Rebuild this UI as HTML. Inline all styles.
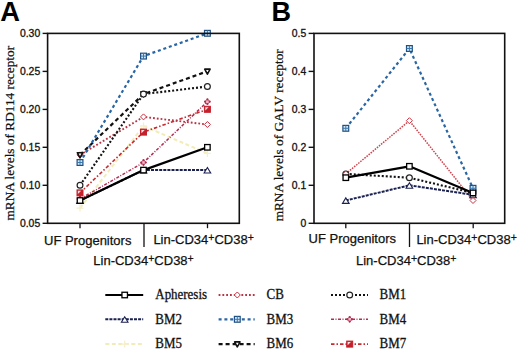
<!DOCTYPE html>
<html><head><meta charset="utf-8"><style>
html,body{margin:0;padding:0;background:#fff;}
svg{display:block;}
.tk{font-family:"Liberation Sans",sans-serif;font-size:10.4px;fill:#111;stroke:#111;stroke-width:0.3px;}
.xl{font-family:"Liberation Sans",sans-serif;font-size:13px;fill:#111;stroke:#111;stroke-width:0.25px;}
.yt{font-family:"Liberation Serif",serif;font-size:13.3px;fill:#111;stroke:#111;stroke-width:0.25px;}
.lg{font-family:"Liberation Serif",serif;font-size:14px;fill:#111;stroke:#111;stroke-width:0.3px;}
.pl{font-family:"Liberation Sans",sans-serif;font-size:27.3px;font-weight:bold;fill:#000;}
</style></head><body>
<svg width="520" height="351" viewBox="0 0 520 351">
<rect width="520" height="351" fill="#fff"/>
<path d="M80.0 208.1L143.5 126.0L207.4 153.4" fill="none" stroke="#f2edb8" stroke-width="2.0" stroke-dasharray="4 2.5" stroke-linejoin="round"/>
<path d="M80.0 199.0L143.5 162.5L207.4 101.7" fill="none" stroke="#b02c50" stroke-width="1.5" stroke-dasharray="3 1.5 1 1.5" stroke-linejoin="round"/>
<path d="M80.0 192.9L143.5 132.1L207.4 109.3" fill="none" stroke="#c82a30" stroke-width="1.6" stroke-dasharray="3.5 2 1.5 2" stroke-linejoin="round"/>
<path d="M80.0 154.9L143.5 116.9L207.4 124.5" fill="none" stroke="#b83444" stroke-width="1.9" stroke-dasharray="1.8 2" stroke-linejoin="round"/>
<path d="M80.0 200.5L143.5 170.1L207.4 170.1" fill="none" stroke="#1a2050" stroke-width="2.0" stroke-dasharray="3 1.1" stroke-linejoin="round"/>
<path d="M80.0 185.3L143.5 94.1L207.4 86.5" fill="none" stroke="#111111" stroke-width="2.1" stroke-dasharray="2 2" stroke-linejoin="round"/>
<path d="M80.0 154.9L143.5 94.1L207.4 71.3" fill="none" stroke="#111111" stroke-width="2.2" stroke-dasharray="4 3" stroke-linejoin="round"/>
<path d="M80.0 162.5L143.5 56.1L207.4 33.3" fill="none" stroke="#2a66a4" stroke-width="2.2" stroke-dasharray="3 2.8" stroke-linejoin="round"/>
<path d="M80.0 200.5L143.5 170.1L207.4 147.3" fill="none" stroke="#000000" stroke-width="2.2" stroke-linejoin="round"/>
<path d="M80.0 204.6V211.6M76.5 208.1H83.5" stroke="#f5f0cc" stroke-width="1.3"/><path d="M143.5 122.5V129.5M140.0 126.0H147.0" stroke="#f5f0cc" stroke-width="1.3"/><path d="M207.4 149.9V156.9M203.9 153.4H210.9" stroke="#f5f0cc" stroke-width="1.3"/>
<path d="M80.0 196.4L82.6 199.0L80.0 201.6L77.4 199.0Z" fill="#f2b8c8" stroke="#b02c50" stroke-width="0.8"/><circle cx="80.0" cy="196.7" r="1.1" fill="#b02c50"/><circle cx="80.0" cy="201.3" r="1.1" fill="#b02c50"/><circle cx="77.7" cy="199.0" r="1.1" fill="#b02c50"/><circle cx="82.3" cy="199.0" r="1.1" fill="#b02c50"/><path d="M143.5 159.9L146.1 162.5L143.5 165.1L140.9 162.5Z" fill="#f2b8c8" stroke="#b02c50" stroke-width="0.8"/><circle cx="143.5" cy="160.2" r="1.1" fill="#b02c50"/><circle cx="143.5" cy="164.8" r="1.1" fill="#b02c50"/><circle cx="141.2" cy="162.5" r="1.1" fill="#b02c50"/><circle cx="145.8" cy="162.5" r="1.1" fill="#b02c50"/><path d="M207.4 99.1L210.0 101.7L207.4 104.3L204.8 101.7Z" fill="#f2b8c8" stroke="#b02c50" stroke-width="0.8"/><circle cx="207.4" cy="99.4" r="1.1" fill="#b02c50"/><circle cx="207.4" cy="104.0" r="1.1" fill="#b02c50"/><circle cx="205.1" cy="101.7" r="1.1" fill="#b02c50"/><circle cx="209.7" cy="101.7" r="1.1" fill="#b02c50"/>
<rect x="77.0" y="189.9" width="6" height="6" fill="#c4202c" stroke="#c4202c" stroke-width="1"/><path d="M77.9 190.8H81.2L77.9 194.1Z" fill="#f8e0e0"/><rect x="140.5" y="129.1" width="6" height="6" fill="#c4202c" stroke="#c4202c" stroke-width="1"/><path d="M141.4 130.0H144.7L141.4 133.3Z" fill="#f8e0e0"/><rect x="204.4" y="106.3" width="6" height="6" fill="#c4202c" stroke="#c4202c" stroke-width="1"/><path d="M205.3 107.2H208.6L205.3 110.5Z" fill="#f8e0e0"/>
<path d="M80.0 197.9L83.3 203.4L76.7 203.4Z" fill="#fff" stroke="#1a2050" stroke-width="1.1"/><path d="M143.5 167.5L146.8 173.0L140.2 173.0Z" fill="#fff" stroke="#1a2050" stroke-width="1.1"/><path d="M207.4 167.5L210.7 173.0L204.1 173.0Z" fill="#fff" stroke="#1a2050" stroke-width="1.1"/>
<path d="M80.0 151.9L83.0 154.9L80.0 157.9L77.0 154.9Z" fill="#fff" stroke="#c83040" stroke-width="1"/><path d="M143.5 113.9L146.5 116.9L143.5 119.9L140.5 116.9Z" fill="#fff" stroke="#c83040" stroke-width="1"/><path d="M207.4 121.5L210.4 124.5L207.4 127.5L204.4 124.5Z" fill="#fff" stroke="#c83040" stroke-width="1"/>
<path d="M77.3 152.7L82.7 152.7L80.0 157.8Z" fill="#fff" stroke="#111111" stroke-width="1.6" stroke-linejoin="round"/><path d="M140.8 91.9L146.2 91.9L143.5 97.0Z" fill="#fff" stroke="#111111" stroke-width="1.6" stroke-linejoin="round"/><path d="M204.7 69.1L210.1 69.1L207.4 74.2Z" fill="#fff" stroke="#111111" stroke-width="1.6" stroke-linejoin="round"/>
<circle cx="80.0" cy="185.3" r="2.9" fill="#fff" stroke="#222222" stroke-width="1.2"/><circle cx="143.5" cy="94.1" r="2.9" fill="#fff" stroke="#222222" stroke-width="1.2"/><circle cx="207.4" cy="86.5" r="2.9" fill="#fff" stroke="#222222" stroke-width="1.2"/>
<rect x="77.1" y="159.6" width="5.8" height="5.8" fill="#d4e8f8" stroke="#1f4f80" stroke-width="1.2"/><path d="M80.0 159.6V165.4M77.1 162.5H82.9" stroke="#3a78b0" stroke-width="1"/><rect x="140.6" y="53.2" width="5.8" height="5.8" fill="#d4e8f8" stroke="#1f4f80" stroke-width="1.2"/><path d="M143.5 53.2V59.0M140.6 56.1H146.4" stroke="#3a78b0" stroke-width="1"/><rect x="204.5" y="30.4" width="5.8" height="5.8" fill="#d4e8f8" stroke="#1f4f80" stroke-width="1.2"/><path d="M207.4 30.4V36.2M204.5 33.3H210.3" stroke="#3a78b0" stroke-width="1"/>
<rect x="77.25" y="197.75" width="5.5" height="5.5" fill="#fff" stroke="#000000" stroke-width="1.3"/><rect x="140.75" y="167.35" width="5.5" height="5.5" fill="#fff" stroke="#000000" stroke-width="1.3"/><rect x="204.65" y="144.55" width="5.5" height="5.5" fill="#fff" stroke="#000000" stroke-width="1.3"/>
<path d="M345.8 173.9L409.4 120.7L473.0 200.5" fill="none" stroke="#cf4650" stroke-width="1.5" stroke-dasharray="1.6 1.1" stroke-linejoin="round"/>
<path d="M345.8 200.5L409.4 185.3L473.0 194.8" fill="none" stroke="#1a2050" stroke-width="2.0" stroke-dasharray="3 1.1" stroke-linejoin="round"/>
<path d="M345.8 173.9L409.4 177.7L473.0 192.9" fill="none" stroke="#111111" stroke-width="2.1" stroke-dasharray="2 2" stroke-linejoin="round"/>
<path d="M345.8 128.3L409.4 48.5L473.0 188.3" fill="none" stroke="#2a66a4" stroke-width="2.2" stroke-dasharray="3 2.8" stroke-linejoin="round"/>
<path d="M345.8 177.7L409.4 166.3L473.0 192.9" fill="none" stroke="#000000" stroke-width="2.2" stroke-linejoin="round"/>
<path d="M345.8 197.9L349.1 203.4L342.5 203.4Z" fill="#fff" stroke="#1a2050" stroke-width="1.1"/><path d="M409.4 182.7L412.7 188.2L406.1 188.2Z" fill="#fff" stroke="#1a2050" stroke-width="1.1"/><path d="M473.0 192.2L476.3 197.7L469.7 197.7Z" fill="#fff" stroke="#1a2050" stroke-width="1.1"/>
<circle cx="345.8" cy="173.9" r="2.9" fill="#fff" stroke="#222222" stroke-width="1.2"/><circle cx="409.4" cy="177.7" r="2.9" fill="#fff" stroke="#222222" stroke-width="1.2"/><circle cx="473.0" cy="192.9" r="2.9" fill="#fff" stroke="#222222" stroke-width="1.2"/>
<path d="M345.8 170.9L348.8 173.9L345.8 176.9L342.8 173.9Z" fill="#fff" stroke="#c83040" stroke-width="1"/><path d="M409.4 117.7L412.4 120.7L409.4 123.7L406.4 120.7Z" fill="#fff" stroke="#c83040" stroke-width="1"/><path d="M473.0 197.5L476.0 200.5L473.0 203.5L470.0 200.5Z" fill="#fff" stroke="#c83040" stroke-width="1"/>
<rect x="342.9" y="125.4" width="5.8" height="5.8" fill="#d4e8f8" stroke="#1f4f80" stroke-width="1.2"/><path d="M345.8 125.4V131.2M342.9 128.3H348.7" stroke="#3a78b0" stroke-width="1"/><rect x="406.5" y="45.6" width="5.8" height="5.8" fill="#d4e8f8" stroke="#1f4f80" stroke-width="1.2"/><path d="M409.4 45.6V51.4M406.5 48.5H412.3" stroke="#3a78b0" stroke-width="1"/><rect x="470.1" y="185.4" width="5.8" height="5.8" fill="#d4e8f8" stroke="#1f4f80" stroke-width="1.2"/><path d="M473.0 185.4V191.2M470.1 188.3H475.9" stroke="#3a78b0" stroke-width="1"/>
<rect x="343.05" y="174.95" width="5.5" height="5.5" fill="#fff" stroke="#000000" stroke-width="1.3"/><rect x="406.65" y="163.55" width="5.5" height="5.5" fill="#fff" stroke="#000000" stroke-width="1.3"/><rect x="470.25" y="190.15" width="5.5" height="5.5" fill="#fff" stroke="#000000" stroke-width="1.3"/>
<rect x="47.6" y="33.4" width="191.70000000000002" height="189.9" fill="none" stroke="#111" stroke-width="1.6"/>
<rect x="314.0" y="33.4" width="190.7" height="189.9" fill="none" stroke="#111" stroke-width="1.6"/>
<path d="M42.6 33.4H47.6" stroke="#111" stroke-width="1.4"/>
<text x="40.2" y="36.6" class="tk" text-anchor="end">0.30</text>
<path d="M42.6 71.4H47.6" stroke="#111" stroke-width="1.4"/>
<text x="40.2" y="74.6" class="tk" text-anchor="end">0.25</text>
<path d="M42.6 109.4H47.6" stroke="#111" stroke-width="1.4"/>
<text x="40.2" y="112.6" class="tk" text-anchor="end">0.20</text>
<path d="M42.6 147.3H47.6" stroke="#111" stroke-width="1.4"/>
<text x="40.2" y="150.5" class="tk" text-anchor="end">0.15</text>
<path d="M42.6 185.3H47.6" stroke="#111" stroke-width="1.4"/>
<text x="40.2" y="188.5" class="tk" text-anchor="end">0.10</text>
<path d="M42.6 223.3H47.6" stroke="#111" stroke-width="1.4"/>
<text x="40.2" y="226.5" class="tk" text-anchor="end">0.05</text>
<path d="M308.6 33.4H314" stroke="#111" stroke-width="1.4"/>
<text x="306.2" y="36.6" class="tk" text-anchor="end">0.5</text>
<path d="M308.6 71.4H314" stroke="#111" stroke-width="1.4"/>
<text x="306.2" y="74.6" class="tk" text-anchor="end">0.4</text>
<path d="M308.6 109.4H314" stroke="#111" stroke-width="1.4"/>
<text x="306.2" y="112.6" class="tk" text-anchor="end">0.3</text>
<path d="M308.6 147.3H314" stroke="#111" stroke-width="1.4"/>
<text x="306.2" y="150.5" class="tk" text-anchor="end">0.2</text>
<path d="M308.6 185.3H314" stroke="#111" stroke-width="1.4"/>
<text x="306.2" y="188.5" class="tk" text-anchor="end">0.1</text>
<path d="M308.6 223.3H314" stroke="#111" stroke-width="1.4"/>
<text x="306.2" y="226.5" class="tk" text-anchor="end">0</text>
<path d="M80 223.3V228.2" stroke="#111" stroke-width="1.3"/>
<path d="M207.5 223.3V228.2" stroke="#111" stroke-width="1.3"/>
<path d="M345.8 223.3V228.2" stroke="#111" stroke-width="1.3"/>
<path d="M473.2 223.3V228.2" stroke="#111" stroke-width="1.3"/>
<path d="M144 223.3V247" stroke="#111" stroke-width="1.3"/>
<path d="M409.5 223.3V247" stroke="#111" stroke-width="1.3"/>
<text x="44" y="244.5" class="xl">UF Progenitors</text>
<text x="153.4" y="243.6" class="xl">Lin-CD34<tspan font-size="10.5" dy="-2.9">+</tspan><tspan dy="2.9">CD38</tspan><tspan font-size="10.5" dy="-2.9">+</tspan></text>
<text x="93.3" y="265.2" class="xl">Lin-CD34<tspan font-size="10.5" dy="-2.9">+</tspan><tspan dy="2.9">CD38</tspan><tspan font-size="10.5" dy="-2.9">+</tspan></text>
<text x="308.6" y="242.8" class="xl">UF Progenitors</text>
<text x="416.4" y="243.5" class="xl">Lin-CD34<tspan font-size="10.5" dy="-2.9">+</tspan><tspan dy="2.9">CD38</tspan><tspan font-size="10.5" dy="-2.9">+</tspan></text>
<text x="356" y="265.3" class="xl">Lin-CD34<tspan font-size="10.5" dy="-2.9">+</tspan><tspan dy="2.9">CD38</tspan><tspan font-size="10.5" dy="-2.9">+</tspan></text>
<text transform="translate(14.2 133.2) rotate(-90)" text-anchor="middle" class="yt">mRNA levels of RD114 receptor</text>
<text transform="translate(282.9 135.3) rotate(-90)" text-anchor="middle" class="yt">mRNA levels of GALV receptor</text>
<text transform="translate(0.3 20.6) scale(1.0 1)" class="pl">A</text>
<text transform="translate(271.5 20.6) scale(0.99 1)" class="pl">B</text>
<path d="M105.3 295.0L143.2 295.0" fill="none" stroke="#000000" stroke-width="2.2" stroke-linejoin="round"/>
<rect x="121.95" y="292.25" width="5.5" height="5.5" fill="#fff" stroke="#000000" stroke-width="1.3"/>
<text transform="translate(155.3 298.8) scale(0.925 1)" class="lg">Apheresis</text>
<path d="M218.6 295.0L254.7 295.0" fill="none" stroke="#b83444" stroke-width="1.9" stroke-dasharray="1.8 2" stroke-linejoin="round"/>
<path d="M237.3 292.0L240.3 295.0L237.3 298.0L234.3 295.0Z" fill="#fff" stroke="#c83040" stroke-width="1"/>
<text transform="translate(266.6 298.8) scale(0.925 1)" class="lg">CB</text>
<path d="M331.0 295.0L368.0 295.0" fill="none" stroke="#111111" stroke-width="2.1" stroke-dasharray="2 2" stroke-linejoin="round"/>
<circle cx="349.7" cy="295.0" r="2.9" fill="#fff" stroke="#222222" stroke-width="1.2"/>
<text transform="translate(379.5 298.8) scale(0.925 1)" class="lg">BM1</text>
<path d="M105.3 319.3L143.2 319.3" fill="none" stroke="#1a2050" stroke-width="2.0" stroke-dasharray="3 1.1" stroke-linejoin="round"/>
<path d="M124.7 316.7L128.0 322.2L121.4 322.2Z" fill="#fff" stroke="#1a2050" stroke-width="1.1"/>
<text transform="translate(155.3 323.7) scale(0.925 1)" class="lg">BM2</text>
<path d="M218.6 319.3L254.7 319.3" fill="none" stroke="#2a66a4" stroke-width="2.2" stroke-dasharray="3 2.8" stroke-linejoin="round"/>
<rect x="234.4" y="316.4" width="5.8" height="5.8" fill="#d4e8f8" stroke="#1f4f80" stroke-width="1.2"/><path d="M237.3 316.4V322.2M234.4 319.3H240.2" stroke="#3a78b0" stroke-width="1"/>
<text transform="translate(266.6 323.7) scale(0.925 1)" class="lg">BM3</text>
<path d="M331.0 319.3L368.0 319.3" fill="none" stroke="#b02c50" stroke-width="1.5" stroke-dasharray="3 1.5 1 1.5" stroke-linejoin="round"/>
<path d="M349.7 316.7L352.3 319.3L349.7 321.9L347.1 319.3Z" fill="#f2b8c8" stroke="#b02c50" stroke-width="0.8"/><circle cx="349.7" cy="317.0" r="1.1" fill="#b02c50"/><circle cx="349.7" cy="321.6" r="1.1" fill="#b02c50"/><circle cx="347.4" cy="319.3" r="1.1" fill="#b02c50"/><circle cx="352.0" cy="319.3" r="1.1" fill="#b02c50"/>
<text transform="translate(379.5 323.7) scale(0.925 1)" class="lg">BM4</text>
<path d="M105.3 344.1L143.2 344.1" fill="none" stroke="#f2edb8" stroke-width="2.0" stroke-dasharray="4 2.5" stroke-linejoin="round"/>
<path d="M124.7 340.6V347.6M121.2 344.1H128.2" stroke="#f5f0cc" stroke-width="1.3"/>
<text transform="translate(155.3 348.0) scale(0.925 1)" class="lg">BM5</text>
<path d="M218.6 344.1L254.7 344.1" fill="none" stroke="#111111" stroke-width="2.2" stroke-dasharray="4 3" stroke-linejoin="round"/>
<path d="M234.6 341.9L240.0 341.9L237.3 347.0Z" fill="#fff" stroke="#111111" stroke-width="1.6" stroke-linejoin="round"/>
<text transform="translate(266.6 348.0) scale(0.925 1)" class="lg">BM6</text>
<path d="M331.0 344.1L368.0 344.1" fill="none" stroke="#c82a30" stroke-width="1.6" stroke-dasharray="3.5 2 1.5 2" stroke-linejoin="round"/>
<rect x="346.7" y="341.1" width="6" height="6" fill="#c4202c" stroke="#c4202c" stroke-width="1"/><path d="M347.6 342.0H350.9L347.6 345.3Z" fill="#f8e0e0"/>
<text transform="translate(379.5 348.0) scale(0.925 1)" class="lg">BM7</text>
</svg>
</body></html>
